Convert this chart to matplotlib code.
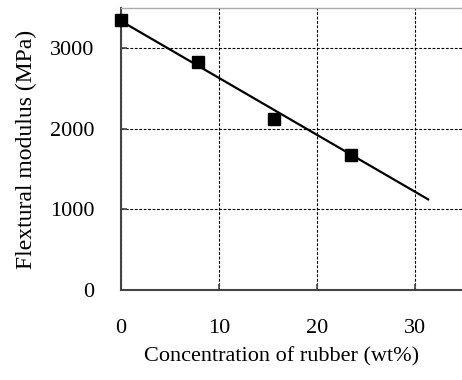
import matplotlib
matplotlib.use("Agg")
import matplotlib.pyplot as plt

# Data
rubber_wt = [0.0, 7.85, 15.6, 23.45]
modulus_mpa = [3345, 2830, 2120, 1675]
fit_x = [0.0, 31.3]
fit_y = [3340, 1125]
x_ticks = [0, 10, 20, 30]
y_ticks = [0, 1000, 2000, 3000]

plt.rcParams['font.family'] = ['Liberation Serif', 'DejaVu Serif']

fig = plt.figure(figsize=(4.62, 3.80), dpi=100)
ax = fig.add_axes([120.7/462, 90/380, 1 - 120.7/462, 282/380])

ax.plot(fit_x, fit_y, color='black', lw=1.6, zorder=3)
ax.plot(rubber_wt, modulus_mpa, 's', color='black', markersize=8, zorder=4, clip_on=False)

ax.set_xlim(0, 34.75)
ax.set_ylim(0, 3500)
ax.set_xticks(x_ticks)
ax.set_yticks(y_ticks)
ax.grid(True, color='black', linestyle=(0, (2.5, 1.5)), linewidth=0.8)
ax.set_axisbelow(True)

for s in ['left', 'bottom']:
    ax.spines[s].set_color('#444444')
    ax.spines[s].set_linewidth(1.5)
ax.spines['top'].set_color('#aaaaaa')
ax.spines['top'].set_linewidth(1.0)
ax.spines['right'].set_visible(False)

ax.tick_params(axis='both', direction='in', length=4, width=1.2, color='#444444',
               labelsize=16)
ax.tick_params(axis='x', pad=21)
ax.tick_params(axis='y', pad=19)

ax.set_xlabel('Concentration of rubber (wt%)', fontsize=16, va='center')
ax.xaxis.set_label_coords(0.4726, -0.2376)
ax.set_ylabel('Flextural modulus (MPa)', fontsize=17, labelpad=9)

fig.savefig('out.png', dpi=100)
